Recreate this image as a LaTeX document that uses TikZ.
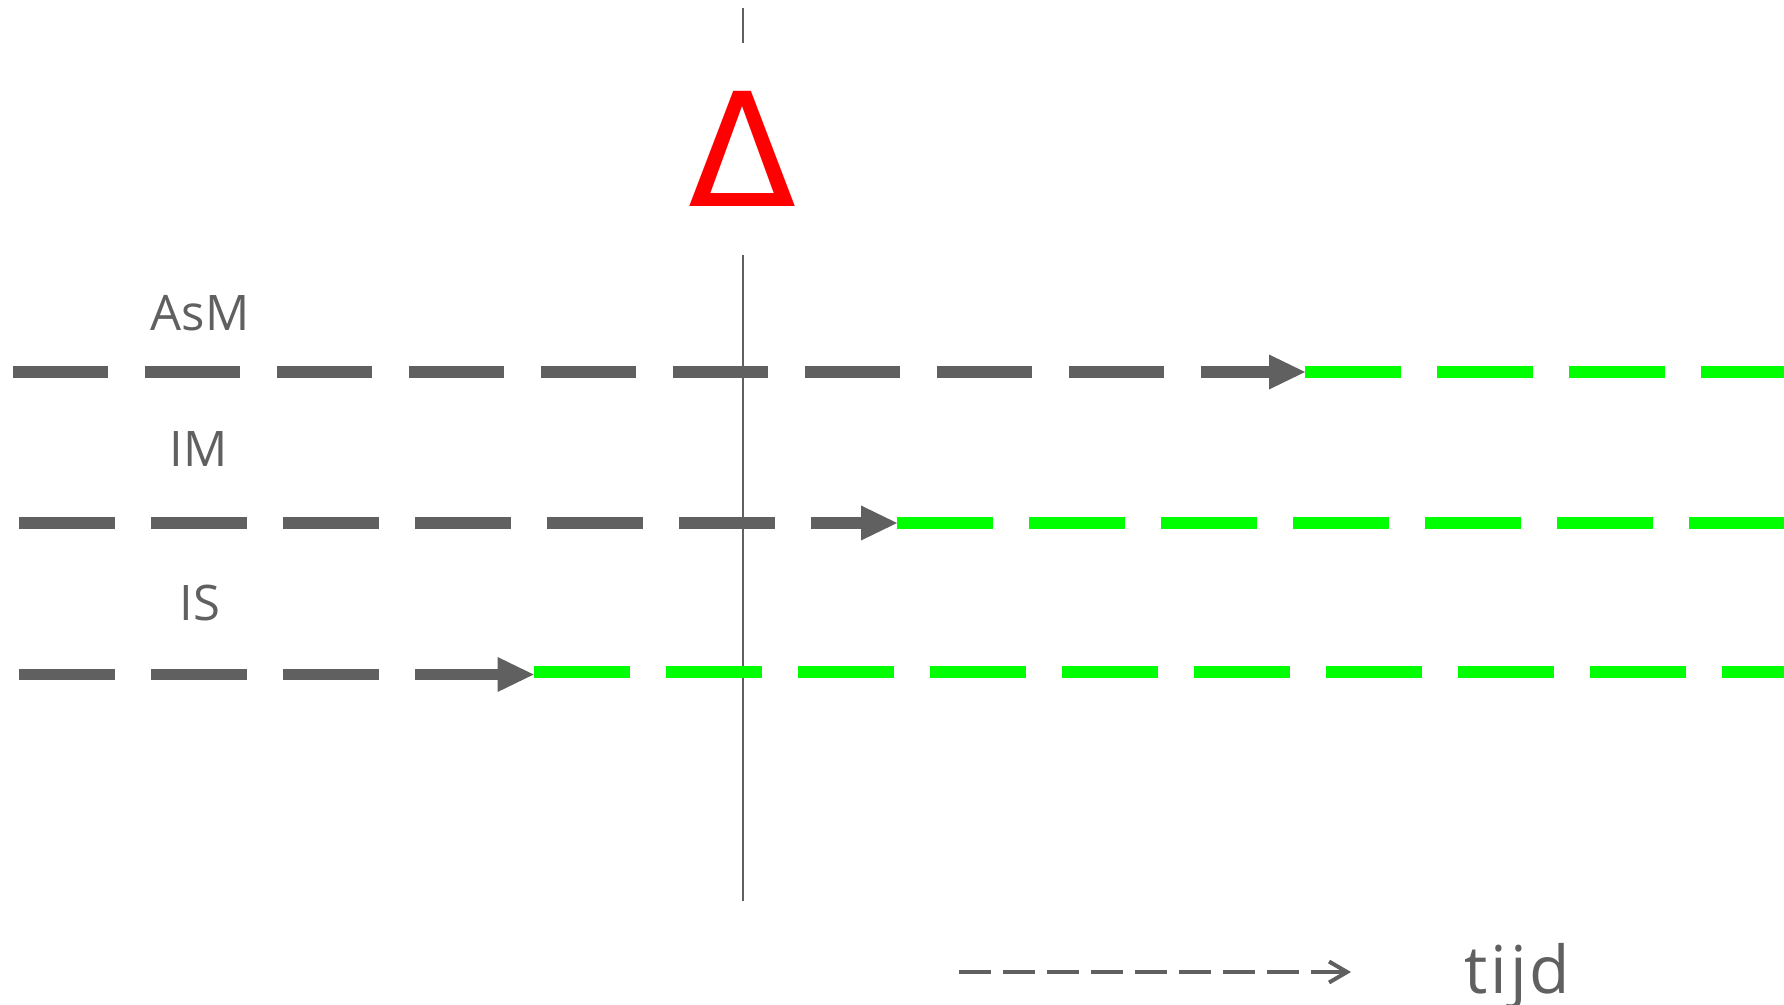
\documentclass[tikz,border=0pt]{standalone}
\usepackage{fontspec}
\setmainfont{Open Sans}
\newfontfamily\deltafont{DejaVu Sans}
\usetikzlibrary{arrows.meta}
\definecolor{dgray}{RGB}{96,96,96}
\definecolor{lgreen}{RGB}{0,255,0}
\begin{document}
\begin{tikzpicture}[x=1pt,y=-1pt,
  grayrow/.style={draw=dgray,line width=11.7pt,dash pattern=on 95.6pt off 36.4pt,
    -{Triangle[length=36pt,width=35pt,line width=0pt]}},
  greenrow/.style={draw=lgreen,line width=12pt,dash pattern=on 96pt off 36pt},
  vline/.style={draw=dgray,line width=2pt},
  lbl/.style={text=dgray,font=\fontsize{49}{49}\selectfont,inner sep=0pt,anchor=base},
  legendarrow/.style={draw=dgray,line width=4pt,dash pattern=on 32pt off 12pt,
    -{Straight Barb[length=18pt,width=21pt]}}]
\useasboundingbox (0,0) rectangle (1784,1004);
% delta and vertical line
\node[text=red,font=\deltafont\fontsize{158}{158}\selectfont,inner sep=0pt,
  text height=115pt,text depth=0pt,minimum height=212pt] (delta) at (742.7,149) {Δ};
\coordinate (vtop) at (742.7,8);
\coordinate (vbot) at (742.7,901);
\draw[vline] (vtop) -- (delta.north);
\draw[vline] (delta.south) -- (vbot);
% labels
\node[lbl] (lAsM) at (200,330) {AsM};
\node[lbl] (lIM) at (198.5,466.7) {IM};
\node[lbl] (lIS) at (200,620) {IS};
% row 1
\coordinate (s1) at (12.5,372);
\coordinate (j1) at (1305,372);
\coordinate (e1) at (1784,372);
\draw[grayrow] (s1) -- (j1);
\draw[greenrow] (j1) -- (e1);
% row 2
\coordinate (s2) at (19.3,523);
\coordinate (j2) at (897,523);
\coordinate (e2) at (1784,523);
\draw[grayrow] (s2) -- (j2);
\draw[greenrow] (j2) -- (e2);
% row 3
\coordinate (s3) at (19.3,674.5);
\coordinate (j3) at (533.6,674.5);
\coordinate (g3) at (533.6,672);
\coordinate (e3) at (1784,672);
\draw[grayrow] (s3) -- (j3);
\draw[greenrow] (g3) -- (e3);
% legend
\coordinate (ls) at (959,972);
\coordinate (le) at (1351,972);
\draw[legendarrow] (ls) -- (le);
\node[text=dgray,font=\addfontfeature{LetterSpace=4.5}\fontsize{66}{66}\selectfont,inner sep=0pt,anchor=base west] (ltijd) at (1464,993) {tijd};
\end{tikzpicture}
\end{document}
